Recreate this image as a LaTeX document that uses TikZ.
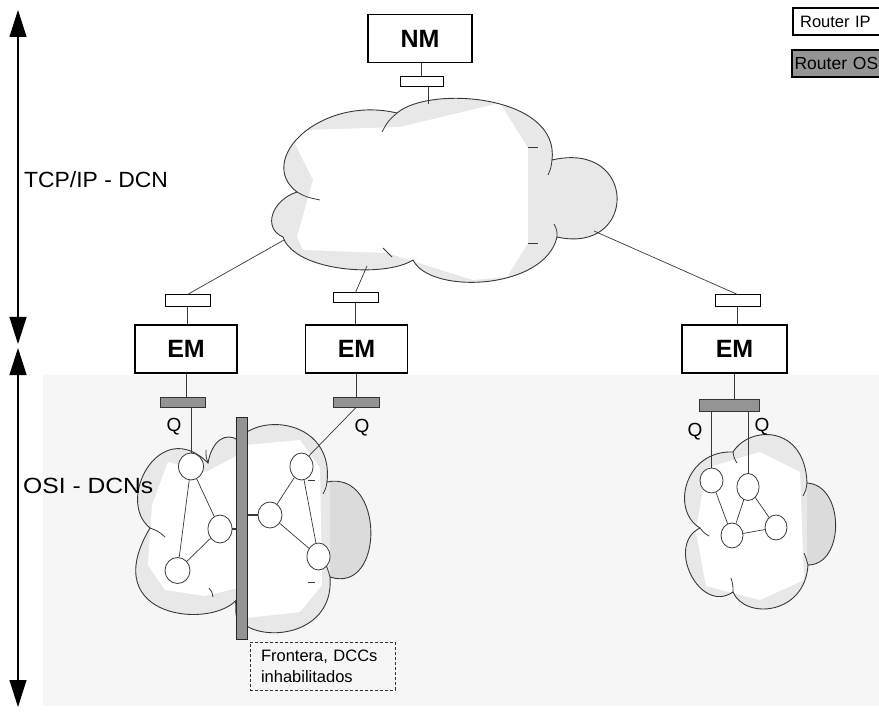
\documentclass[tikz,border=0pt]{standalone}
\usepackage{fontspec}
\setmainfont{Liberation Sans}
\usetikzlibrary{arrows.meta,shapes.geometric}

\definecolor{bggray}{gray}{0.965}
\definecolor{cloudgray}{gray}{0.91}
\definecolor{clouddark}{gray}{0.86}
\definecolor{bargray}{gray}{0.58}
\definecolor{edgegray}{gray}{0.22}

% cloud outlines
\def\cloudtop{(297,192) .. controls (255,160) and (320,95) .. (397,113)
  .. controls (430,85) and (560,95) .. (552,160)
  .. controls (638,140) and (638,255) .. (557,237)
  .. controls (545,290) and (430,295) .. (413,260)
  .. controls (385,278) and (295,272) .. (283,237)
  .. controls (262,228) and (272,200) .. (297,192) -- cycle}
\def\cloudosiright{(232,458) .. controls (232,410) and (335,410) .. (327,482)
  .. controls (385,470) and (385,595) .. (330,577)
  .. controls (335,640) and (250,645) .. (236,615) -- cycle}
\def\cloudosileft{(150,528) .. controls (115,500) and (160,415) .. (208,463)
  .. controls (212,440) and (226,432) .. (238,440) -- (238,598)
  .. controls (215,630) and (95,620) .. (150,528) -- cycle}
\def\cloudosithree{(700,528) .. controls (670,510) and (685,450) .. (733,452)
  .. controls (750,425) and (805,425) .. (807,483)
  .. controls (845,485) and (845,565) .. (808,565)
  .. controls (805,615) and (745,620) .. (733,592)
  .. controls (700,615) and (665,545) .. (700,528) -- cycle}

\tikzset{
  mgrbox/.style={draw=black, line width=1.3pt, fill=white, inner sep=0,
    minimum width=104, minimum height=48,
    font=\fontsize{25}{25}\bfseries\selectfont},
  iprouter/.style={draw=black, line width=1pt, fill=white, inner sep=0,
    minimum width=45, minimum height=11},
  osrouter/.style={draw=black!80, line width=1pt, fill=bargray, inner sep=0,
    minimum width=45, minimum height=10},
  ne/.style={ellipse, draw=edgegray, line width=0.8pt, fill=white, inner sep=0,
    minimum width=23, minimum height=26},
  link/.style={draw=edgegray, line width=0.7pt},
  cloudline/.style={draw=edgegray, line width=0.9pt},
  hook/.style={draw=edgegray, line width=0.8pt},
  sidelab/.style={font=\fontsize{22}{25}\selectfont, inner sep=0, anchor=west},
  qlab/.style={font=\fontsize{19}{22}\selectfont, inner sep=0},
  legend/.style={draw=black, line width=2.2pt, inner sep=0, anchor=west,
    minimum height=27, text width=86pt, align=left,
    font=\fontsize{16.5}{18}\selectfont},
  span/.style={{Triangle[width=17pt,length=27pt]}-{Triangle[width=17pt,length=27pt]},
    line width=1.2pt},
}

\begin{document}
\begin{tikzpicture}[x=1pt,y=-1pt]
\useasboundingbox (0,0) rectangle (879,714);
\fill[white] (0,0) rectangle (879,714);
% lower band behind the OSI networks
\fill[bggray] (43,375) rectangle (879,706);

% vertical extent arrows
\coordinate (t1) at (18,10);
\coordinate (b1) at (18,344);
\coordinate (t2) at (18,348);
\coordinate (b2) at (18,707);
\draw[span] (t1) -- (b1);
\draw[span] (t2) -- (b2);

% legend
\node[legend, fill=white, inner xsep=7pt] (lip) at (792,21.5) {Router IP};
\node[legend, fill=bargray, inner xsep=2.5pt, font=\fontsize{17.5}{18}\selectfont] (los) at (791,63.5) {Router OS};

% ---------- TCP/IP cloud ----------
\begin{scope}
  \clip \cloudtop;
  \fill[cloudgray] (260,90) rectangle (640,290);
  \fill[white] (292,138) -- (313,180) -- (297,237) -- (303,250) -- (387,253)
    -- (473,280) -- (507,277) -- (528,243) -- (528,148) -- (500,103)
    -- (400,127) -- (303,130) -- cycle;
\end{scope}
\path[cloudline] \cloudtop;
\draw[hook] (297,192) .. controls (306,197) .. (320,200);
\draw[hook] (397,113) .. controls (388,121) .. (382,132);
\draw[hook] (552,160) .. controls (551,168) .. (548,175);
\draw[hook] (557,237) .. controls (557,230) .. (554,224);
\draw[hook] (392,257) .. controls (388,252) .. (383,248);
\draw[hook] (528,147) -- (538,147);
\draw[hook] (528,243) -- (538,243);
\coordinate (cnm) at (428,104);
\coordinate (cem1) at (284,240);
\coordinate (cem2) at (367,266);
\coordinate (cem3) at (594,231);

% ---------- NM ----------
\node[mgrbox] (nm) at (420,38.5) {NM};
\node[iprouter, minimum width=43, minimum height=10] (r0) at (421.5,82) {};
\draw[link, line width=1pt] (nm.south -| r0) -- (r0.north);
\draw[link, line width=1pt] (r0.south -| cnm) -- (cnm);

% ---------- EMs and their routers ----------
\node[mgrbox, minimum width=102] (em1) at (186,349) {EM};
\node[mgrbox, minimum width=102] (em2) at (356.5,349) {EM};
\node[mgrbox, minimum width=105] (em3) at (734.5,349) {EM};
\node[iprouter, minimum height=12] (r1) at (187.5,301) {};
\node[iprouter, minimum height=10] (r2) at (355.5,298) {};
\node[iprouter, minimum height=12] (r3) at (737.5,301) {};
\draw[link] (cem1) -- (r1.north);
\draw[link] (cem2) -- (r2.north);
\draw[link] (cem3) -- (r3.north);
\draw[link, line width=1pt] (r1.south) -- (r1.south |- em1.north);
\draw[link, line width=1pt] (r2.south) -- (r2.south |- em2.north);
\draw[link, line width=1pt] (r3.south) -- (r3.south |- em3.north);
\node[osrouter] (os1) at (182.5,402) {};
\node[osrouter, minimum width=46] (os2) at (356,402) {};
\node[osrouter, minimum width=60, minimum height=12] (os3) at (729,405) {};
\draw[link, line width=1pt] (em1.south) -- (em1.south |- os1.north);
\draw[link, line width=1pt] (em2.south) -- (em2.south |- os2.north);
\draw[link, line width=1pt] (em3.south) -- (em3.south |- os3.north);

% ---------- OSI networks under EM1 / EM2 ----------
\begin{scope}
  \clip \cloudosiright;
  \fill[clouddark] (200,400) rectangle (400,650);
  \fill[cloudgray] (200,400) rectangle (330,650);
  \fill[white] (246,445) -- (300,440) -- (320,468) -- (322,585) -- (300,612)
    -- (246,618) -- cycle;
\end{scope}
\path[cloudline] \cloudosiright;
\draw[hook] (327,482) .. controls (326,488) .. (323,494);
\draw[hook] (330,577) .. controls (328,570) .. (326,565);
\draw[hook] (308,480) -- (315,480);
\draw[hook] (308,582) -- (315,582);

\begin{scope}
  \clip \cloudosileft;
  \fill[cloudgray] (120,420) rectangle (240,640);
  \fill[white] (152,505) -- (168,462) -- (206,472) -- (238,455) -- (238,588)
    -- (205,596) -- (165,590) -- (148,565) -- cycle;
\end{scope}
\path[cloudline] \cloudosileft;
\draw[hook] (150,528) .. controls (158,531) .. (165,537);
\draw[hook] (208,463) .. controls (206,457) .. (206,450);
\draw[hook] (209,588) .. controls (212,592) .. (213,597);

\node[draw=black!85, line width=1pt, fill=bargray, inner sep=0,
  minimum width=11, minimum height=222] (fr) at (241.5,528) {};

\node[ne, minimum width=25, minimum height=27] (na) at (191,466.5) {};
\node[ne, minimum width=24, minimum height=28] (nb) at (220,529) {};
\node[ne, minimum width=25, minimum height=26] (nc) at (177.5,570.5) {};
\node[ne, minimum width=23, minimum height=27] (nd) at (301.5,466.5) {};
\node[ne, minimum width=24, minimum height=26] (nf) at (270,515) {};
\node[ne, minimum width=23, minimum height=27] (ng) at (318.5,556.5) {};
\draw[link] (na) -- (nb);
\draw[link] (na) -- (nc);
\draw[link] (nb) -- (nc);
\draw[link] (nd) -- (nf);
\draw[link] (nd) -- (ng);
\draw[link] (nf) -- (ng);
\draw[link, line width=1.2pt] (nb.east) -- (nb.east -| fr.west);
\draw[link, line width=1.2pt] (nf.west) -- (nf.west -| fr.east);
\draw[link] (na.north |- os1.south) -- (na.north);
\draw[link] (os2.south) -- (nd.55);
\node[qlab] (q1) at (174,427) {Q};
\node[qlab] (q2) at (362,428) {Q};

% ---------- OSI network under EM3 ----------
\begin{scope}
  \clip \cloudosithree;
  \fill[clouddark] (660,420) rectangle (860,630);
  \fill[cloudgray] (660,420) rectangle (807,630);
  \fill[white] (706,468) -- (760,452) -- (800,472) -- (804,580) -- (760,600)
    -- (706,586) -- (696,532) -- cycle;
\end{scope}
\path[cloudline] \cloudosithree;
\draw[hook] (700,528) .. controls (704,533) .. (709,536);
\draw[hook] (733,452) .. controls (734,458) .. (737,463);
\draw[hook] (807,483) .. controls (806,490) .. (803,496);
\draw[hook] (808,565) .. controls (806,558) .. (804,553);
\draw[hook] (733,592) .. controls (733,585) .. (731,578);

\node[ne, minimum width=23, minimum height=25] (nh) at (711.5,480.5) {};
\node[ne, minimum width=22, minimum height=27] (ni) at (748,487) {};
\node[ne, minimum width=22, minimum height=25] (nj) at (732,535.5) {};
\node[ne, minimum width=22, minimum height=25] (nk) at (776,527.5) {};
\draw[link] (nh) -- (nj);
\draw[link] (ni) -- (nj);
\draw[link] (ni) -- (nk);
\draw[link] (nj) -- (nk);
\draw[link, line width=1pt] (nh.north |- os3.south) -- (nh.north);
\draw[link, line width=1pt] (ni.north |- os3.south) -- (ni.north);
\node[qlab] (q3) at (695,432) {Q};
\node[qlab] (q4) at (762,427) {Q};

% ---------- side labels (set over the clouds) ----------
\node[sidelab, xscale=1.04] (ltcp) at (24,180) {TCP/IP - DCN};
\node[sidelab, xscale=1.12] (losi) at (23,486) {OSI - DCNs};

% ---------- boundary note ----------
\node[draw=black!80, dash pattern=on 3pt off 2pt, line width=0.8pt,
  minimum width=145, minimum height=48, inner xsep=11pt,
  text width=123pt, align=left,
  font=\fontsize{16.5}{21}\selectfont] (note) at (322.5,666)
  {Frontera, DCCs\\inhabilitados};
\end{tikzpicture}
\end{document}
